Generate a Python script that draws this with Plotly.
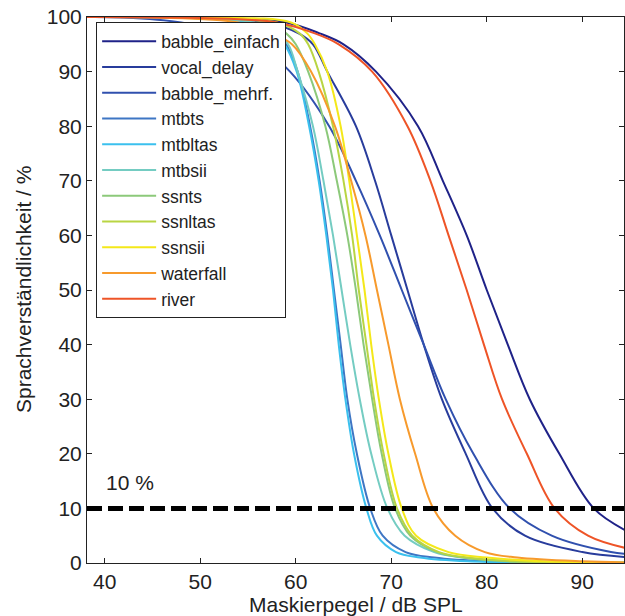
import plotly.graph_objects as go

# ---- data (x = masker level in dB SPL, y = intelligibility in %) ----
babble_einfach_x = [38, 52, 59, 62.5, 65, 68.4, 72.8, 75.4, 77.9, 80.0, 82.2, 84.5, 87.6, 91.2, 94.5]
babble_einfach_y = [100, 99.8, 99, 97, 95, 90, 80, 70, 60, 50, 40, 30, 20, 10, 6]

vocal_delay_x = [38, 50, 57, 60.3, 61.8, 63.3, 66.3, 68.3, 70.0, 71.7, 73.4, 75.3, 77.8, 80.6, 84.0, 90.0, 94.5]
vocal_delay_y = [100, 99.8, 99, 97, 95, 90, 80, 70, 60, 50, 40, 30, 20, 10, 5, 2, 1.1]

babble_mehrf_x = [38, 42, 48, 53, 56, 59.4, 63.5, 66.3, 68.8, 71.1, 73.4, 75.7, 78.6, 82.4, 86.8, 93.0, 94.5]
babble_mehrf_y = [100, 99.9, 99, 97, 95, 90, 80, 70, 60, 50, 40, 30, 20, 10, 5, 2, 1.7]

mtbts_x = [38, 47, 55.5, 57.8, 59.0, 60.2, 61.5, 62.5, 63.3, 64.0, 64.7, 65.4, 66.4, 67.8, 69.1, 71.5, 74.5, 80, 94.5]
mtbts_y = [100, 99.9, 99, 97, 95, 90, 80, 70, 60, 50, 40, 30, 20, 10, 5, 2, 1, 0.3, 0.05]

mtbltas_x = [38, 47, 55.0, 57.5, 58.8, 60.1, 61.4, 62.4, 63.2, 63.9, 64.5, 65.2, 66.1, 67.4, 68.5, 70.5, 73.0, 78, 94.5]
mtbltas_y = [100, 99.9, 99, 97, 95, 90, 80, 70, 60, 50, 40, 30, 20, 10, 5, 2, 1, 0.3, 0.05]

mtbsii_x = [38, 47, 55.5, 58.0, 59.2, 60.2, 61.8, 62.9, 63.9, 64.8, 65.7, 66.7, 67.9, 69.6, 71.4, 74.5, 77.5, 83, 94.5]
mtbsii_y = [100, 99.9, 99, 97, 95, 90, 80, 70, 60, 50, 40, 30, 20, 10, 5, 2, 1, 0.3, 0.05]

ssnts_x = [38, 48, 57.0, 59.0, 60.0, 61.3, 63.1, 64.3, 65.4, 66.3, 67.1, 68.0, 69.0, 70.4, 72.0, 74.8, 77.5, 82, 94.5]
ssnts_y = [100, 99.9, 99, 97, 95, 90, 80, 70, 60, 50, 40, 30, 20, 10, 5, 2, 1, 0.3, 0.05]

ssnltas_x = [38, 49, 58.0, 60.4, 61.3, 62.4, 63.9, 65.0, 65.9, 66.6, 67.4, 68.2, 69.2, 70.6, 72.2, 75.0, 78.0, 83, 94.5]
ssnltas_y = [100, 99.9, 99, 97, 95, 90, 80, 70, 60, 50, 40, 30, 20, 10, 5, 2, 1, 0.3, 0.05]

ssnsii_x = [38, 50, 59.5, 61.2, 62.0, 63.3, 64.7, 65.6, 66.4, 67.2, 67.9, 68.7, 69.7, 71.1, 72.6, 76.0, 80.0, 86, 94.5]
ssnsii_y = [100, 99.9, 99, 97, 95, 90, 80, 70, 60, 50, 40, 30, 20, 10, 5, 2, 1, 0.3, 0.05]

waterfall_x = [38, 45, 54.0, 57.5, 59.6, 61.6, 64.1, 65.8, 67.3, 68.5, 69.7, 70.9, 72.5, 74.4, 76.7, 79.8, 83.2, 90.0, 94.5]
waterfall_y = [100, 99.9, 99, 97, 95, 90, 80, 70, 60, 50, 40, 30, 20, 10, 5, 2, 1, 0.3, 0.1]

river_x = [38, 50, 58.0, 62.0, 64.5, 68.0, 71.7, 74.1, 76.0, 77.9, 79.7, 81.6, 84.2, 87.1, 90.6, 94.4]
river_y = [100, 99.8, 99, 97, 95, 90, 80, 70, 60, 50, 40, 30, 20, 10, 5, 2.8]

series_names = ["babble_einfach", "vocal_delay", "babble_mehrf.", "mtbts", "mtbltas", "mtbsii",
                "ssnts", "ssnltas", "ssnsii", "waterfall", "river"]
series_x = [babble_einfach_x, vocal_delay_x, babble_mehrf_x, mtbts_x, mtbltas_x, mtbsii_x,
            ssnts_x, ssnltas_x, ssnsii_x, waterfall_x, river_x]
series_y = [babble_einfach_y, vocal_delay_y, babble_mehrf_y, mtbts_y, mtbltas_y, mtbsii_y,
            ssnts_y, ssnltas_y, ssnsii_y, waterfall_y, river_y]
series_colors = ["#1F2288", "#283C9C", "#3050AE", "#3E76C4", "#3BC0EE", "#74CCC2",
                 "#8CC97A", "#B9D543", "#F4E81A", "#F79A2C", "#EE5427"]

x_ticks = [40, 50, 60, 70, 80, 90]
y_ticks = [0, 10, 20, 30, 40, 50, 60, 70, 80, 90, 100]
threshold = 10
threshold_label = "10 %"
x_title = "Maskierpegel / dB SPL"
y_title = "Sprachverständlichkeit / %"

FONT = "Liberation Sans, Arial, Helvetica, sans-serif"
INK = "#222"

fig = go.Figure()
for name, xs, ys, col in zip(series_names, series_x, series_y, series_colors):
    fig.add_trace(go.Scatter(
        x=xs, y=ys, name=name, mode="lines",
        line=dict(color=col, width=2, shape="spline", smoothing=1.0),
        legendgroup=name,
    ))

fig.add_shape(type="line", xref="paper", x0=0, x1=1, yref="y", y0=threshold, y1=threshold,
              line=dict(color="black", width=5, dash="15px,6px"), layer="above")

fig.add_annotation(x=39.9, y=14.8, xref="x", yref="y", text=threshold_label, showarrow=False,
                   xanchor="left", yanchor="middle", font=dict(family=FONT, size=21, color=INK))

# axis titles as annotations for exact placement
fig.add_annotation(x=0.5, y=0, xref="paper", yref="paper", text=x_title, showarrow=False,
                   xanchor="center", yanchor="middle", yshift=-41,
                   font=dict(family=FONT, size=21, color=INK))
fig.add_annotation(x=0, y=0.5, xref="paper", yref="paper", text=y_title, showarrow=False,
                   textangle=-90, xanchor="center", yanchor="middle", xshift=-64,
                   font=dict(family=FONT, size=21, color=INK))

axis_common = dict(showgrid=False, zeroline=False, showline=True, linecolor=INK, linewidth=1,
                   mirror="ticks", ticks="inside", ticklen=5, tickcolor=INK,
                   tickfont=dict(family=FONT, size=21, color=INK), automargin=False,
                   ticklabeloverflow="allow")

fig.update_xaxes(range=[38.14, 94.37], tickvals=x_ticks, **axis_common)
fig.update_yaxes(range=[0, 100], tickvals=y_ticks, **axis_common)

fig.update_layout(
    width=625, height=616,
    margin=dict(l=87, r=1, t=17, b=53),
    paper_bgcolor="white", plot_bgcolor="white",
    font=dict(family=FONT, color=INK),
    showlegend=True,
    legend=dict(x=0.017, y=0.99, xanchor="left", yanchor="top",
                bgcolor="white", bordercolor=INK, borderwidth=1,
                font=dict(family=FONT, size=17.5, color=INK),
                itemwidth=54,
                tracegroupgap=0, traceorder="normal"),
)

# remove the browser's default 8px body margin so the figure fills the window
fig.write_html("out.html", config={"displayModeBar": False},
               post_script="document.body.style.margin='0';")
